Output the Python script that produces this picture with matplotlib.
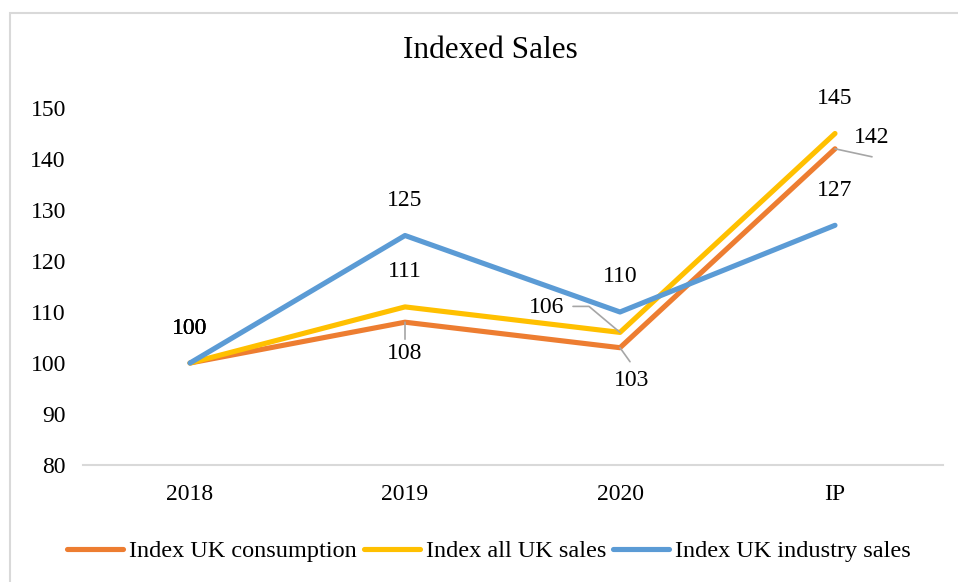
import matplotlib
matplotlib.use("Agg")
import matplotlib.pyplot as plt
from matplotlib.patches import Rectangle

plt.rcParams['font.family'] = ['Liberation Serif', 'DejaVu Serif']

categories = ["2018", "2019", "2020", "IP"]
consumption = [100, 108, 103, 142]
all_sales = [100, 111, 106, 145]
industry_sales = [100, 125, 110, 127]
series_names = ["Index UK consumption", "Index all UK sales", "Index UK industry sales"]
y_ticks = [80, 90, 100, 110, 120, 130, 140, 150]

colors = ["#ED7D31", "#FFC000", "#5B9BD5"]
leader_color = "#A6A6A6"

fig = plt.figure(figsize=(9.58, 5.82), dpi=100)
ax = fig.add_axes([82.5 / 958, 1 - 465 / 582, 860 / 958, (465 - 108) / 582])

x = list(range(len(categories)))
series = [consumption, all_sales, industry_sales]
for vals, name, col in zip(series, series_names, colors):
    ax.plot(x, vals, color=col, lw=3.7, solid_capstyle='round',
            solid_joinstyle='round', label=name)

ax.set_xlim(-0.5, len(categories) - 0.5)
ax.set_ylim(80, 150)
ax.set_yticks(y_ticks)
ax.set_xticks(x)
ax.set_xticklabels(categories)
ax.tick_params(axis='both', length=0, labelsize=17)
ax.tick_params(axis='y', pad=12)
ax.tick_params(axis='x', pad=14)
for s in ["top", "right", "left"]:
    ax.spines[s].set_visible(False)
ax.spines["bottom"].set_color("#D9D9D9")
ax.spines["bottom"].set_linewidth(1.5)

# label placement per series/point: (dx, dy) in pixels
above = (0, 35)
placements = [
    [above, (0, -31), (12, -33), (37, 11)],
    [above, above, (-73, 25), above],
    [above, above, above, above],
]
# leader lines: straight segment to an offset, or an elbow starting at an offset
leaders = {
    (0, 1): ("line", (0, -17)),
    (0, 2): ("line", (10, -14)),
    (0, 3): ("line", (37, -8)),
    (1, 2): ("elbow", (-47, 26)),
}

for si, vals in enumerate(series):
    for pi, v in enumerate(vals):
        dx, dy = placements[si][pi]
        ax.annotate(f"{v}", xy=(pi, v), xytext=(dx, dy), textcoords='offset pixels',
                    ha='center', va='center', fontsize=17, color='black', zorder=5)
        if (si, pi) in leaders:
            kind, end = leaders[(si, pi)]
            props = dict(arrowstyle='-', color=leader_color, lw=1.2,
                         shrinkA=0, shrinkB=0)
            if kind == "elbow":
                props["connectionstyle"] = "angle,angleA=0,angleB=140,rad=0"
            ax.annotate("", xy=(pi, v), xytext=end, textcoords='offset pixels',
                        arrowprops=props, zorder=4)

fig.text(490 / 958, 1 - 50 / 582, "Indexed Sales", ha='center', va='center', fontsize=22.5)

leg = fig.legend(loc='center', bbox_to_anchor=(489 / 958, 1 - 551 / 582), ncol=3,
                 frameon=False, fontsize=17.5, handlelength=2.3, handletextpad=0.25,
                 columnspacing=0.3)
for line in leg.get_lines():
    line.set_linewidth(3.7)
    line.set_solid_capstyle('round')

fig.patches.append(Rectangle((9.5 / 958, -0.05), 1.1, 1.05 - 13 / 582,
                             transform=fig.transFigure, fill=False,
                             edgecolor="#D9D9D9", lw=1.5))

fig.savefig("out.png", dpi=100)
